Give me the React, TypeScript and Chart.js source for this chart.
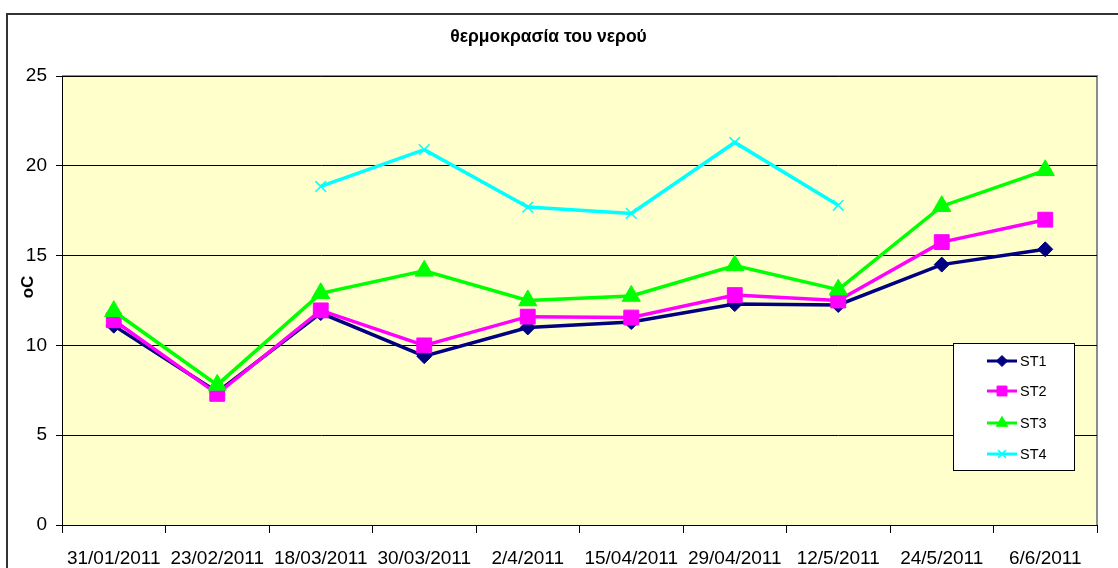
import React, { useEffect, useRef } from "react";
import { Chart, registerables } from "chart.js";
import { drawPoint } from "chart.js/helpers";

Chart.register(...registerables);

const categories = [
  "31/01/2011", "23/02/2011", "18/03/2011", "30/03/2011", "2/4/2011",
  "15/04/2011", "29/04/2011", "12/5/2011", "24/5/2011", "6/6/2011",
];
const st1 = [11.1, 7.4, 11.8, 9.4, 11.0, 11.3, 12.3, 12.25, 14.5, 15.35];
const st2 = [11.4, 7.3, 11.95, 10.0, 11.6, 11.55, 12.8, 12.5, 15.75, 17.0];
const st3 = [11.9, 7.8, 12.9, 14.15, 12.5, 12.75, 14.45, 13.1, 17.75, 19.75];
const st4 = [null, null, 18.85, 20.9, 17.7, 17.35, 21.3, 17.8, null, null];
const yTicks = [0, 5, 10, 15, 20, 25];

const titleText = "θερμοκρασία του νερού";
const yTitle = "oC";
const FONT = "'Liberation Sans', Arial, sans-serif";

const framePlugin = {
  id: "framePlugin",
  beforeDraw(chart: any) {
    const { ctx, chartArea } = chart;
    ctx.save();
    ctx.fillStyle = "#ffffff";
    ctx.fillRect(0, 0, chart.width, chart.height);
    ctx.strokeStyle = "#333333";
    ctx.lineWidth = 2;
    ctx.strokeRect(7, 14, chart.width + 40, chart.height + 40);
    ctx.fillStyle = "#FFFFCC";
    ctx.fillRect(chartArea.left, chartArea.top, chartArea.right - chartArea.left, chartArea.bottom - chartArea.top);
    ctx.strokeStyle = "#8c8c8c";
    ctx.lineWidth = 2;
    ctx.beginPath();
    ctx.moveTo(chartArea.left, chartArea.top);
    ctx.lineTo(chartArea.right, chartArea.top);
    ctx.lineTo(chartArea.right, chartArea.bottom);
    ctx.stroke();
    ctx.fillStyle = "#000000";
    ctx.font = `bold 17px ${FONT}`;
    ctx.textAlign = "center";
    ctx.textBaseline = "middle";
    ctx.translate(28, 287);
    ctx.rotate(-Math.PI / 2);
    ctx.fillText(yTitle, 0, 0);
    ctx.restore();
  },
  afterDraw(chart: any) {
    const { ctx } = chart;
    const bx = 953, by = 343, bw = 121, bh = 127;
    ctx.save();
    ctx.fillStyle = "#ffffff";
    ctx.fillRect(bx, by, bw, bh);
    ctx.strokeStyle = "#000000";
    ctx.lineWidth = 1;
    ctx.strokeRect(bx + 0.5, by + 0.5, bw, bh);
    const rows = [361, 391, 423, 454];
    chart.data.datasets.forEach((ds: any, i: number) => {
      const y = rows[i];
      ctx.strokeStyle = ds.borderColor;
      ctx.lineWidth = 3;
      ctx.beginPath();
      ctx.moveTo(987, y);
      ctx.lineTo(1017, y);
      ctx.stroke();
      ctx.fillStyle = ds.pointBackgroundColor;
      ctx.strokeStyle = ds.pointBorderColor;
      ctx.lineWidth = ds.pointBorderWidth;
      drawPoint(ctx, { pointStyle: ds.pointStyle, rotation: 0, radius: ds.legendRadius, borderWidth: ds.pointBorderWidth }, 1002, y);
      ctx.fillStyle = "#000000";
      ctx.font = `14.5px ${FONT}`;
      ctx.textAlign = "left";
      ctx.textBaseline = "middle";
      ctx.fillText(ds.label, 1020, y + 1);
    });
    ctx.restore();
  },
};

export default function App() {
  const ref = useRef<HTMLCanvasElement | null>(null);
  useEffect(() => {
    if (!ref.current) return;
    const mk = (label: string, data: any[], color: string, style: string, radius: number, legendRadius: number, order: number, bw = 1) => ({
      label,
      data,
      borderColor: color,
      backgroundColor: color,
      pointBackgroundColor: color,
      pointBorderColor: color,
      pointBorderWidth: bw,
      borderWidth: 3.5,
      pointStyle: style,
      pointRadius: radius,
      pointHoverRadius: radius,
      legendRadius,
      order,
      spanGaps: false,
      tension: 0,
    });
    const chart = new Chart(ref.current, {
      type: "line",
      data: {
        labels: categories,
        datasets: [
          mk("ST1", st1, "#000080", "rectRot", 7.5, 5.5, 4),
          mk("ST2", st2, "#FF00FF", "rect", 10.5, 7, 3),
          mk("ST3", st3, "#00FF00", "triangle", 10.5, 6.5, 2),
          mk("ST4", st4, "#00FFFF", "crossRot", 7.5, 5.5, 1, 1.5),
        ] as any,
      },
      options: {
        animation: false,
        responsive: true,
        maintainAspectRatio: false,
        layout: { padding: { left: 0, right: 21, top: 0, bottom: 0 } },
        plugins: {
          legend: { display: false },
          tooltip: { enabled: false },
          title: {
            display: true,
            text: titleText,
            color: "#000000",
            font: { family: FONT, size: 17.5, weight: "bold" },
            padding: { top: 27, bottom: 28 },
          },
        },
        scales: {
          x: {
            type: "category",
            offset: true,
            grid: { offset: true, drawOnChartArea: false, color: "#000000", tickLength: 8, tickColor: "#000000" },
            border: { color: "#000000", width: 1 },
            ticks: { color: "#000000", font: { family: FONT, size: 19 }, padding: 14, maxRotation: 0, autoSkip: false },
            afterFit: (s: any) => { s.height = 43; },
          },
          y: {
            min: 0,
            max: 25,
            afterBuildTicks: (s: any) => { s.ticks = yTicks.map((v) => ({ value: v })); },
            grid: { color: "#000000", tickLength: 6, tickColor: "#000000", lineWidth: 1 },
            border: { color: "#000000", width: 1 },
            ticks: { color: "#000000", font: { family: FONT, size: 19 }, padding: 9 },
            afterFit: (s: any) => { s.width = 62; },
          },
        },
      },
      plugins: [framePlugin],
    });
    return () => chart.destroy();
  }, []);
  return (
    <div style={{ position: "fixed", left: 0, top: 0, width: 1118, height: 568, background: "#fff" }}>
      <canvas ref={ref} />
    </div>
  );
}
